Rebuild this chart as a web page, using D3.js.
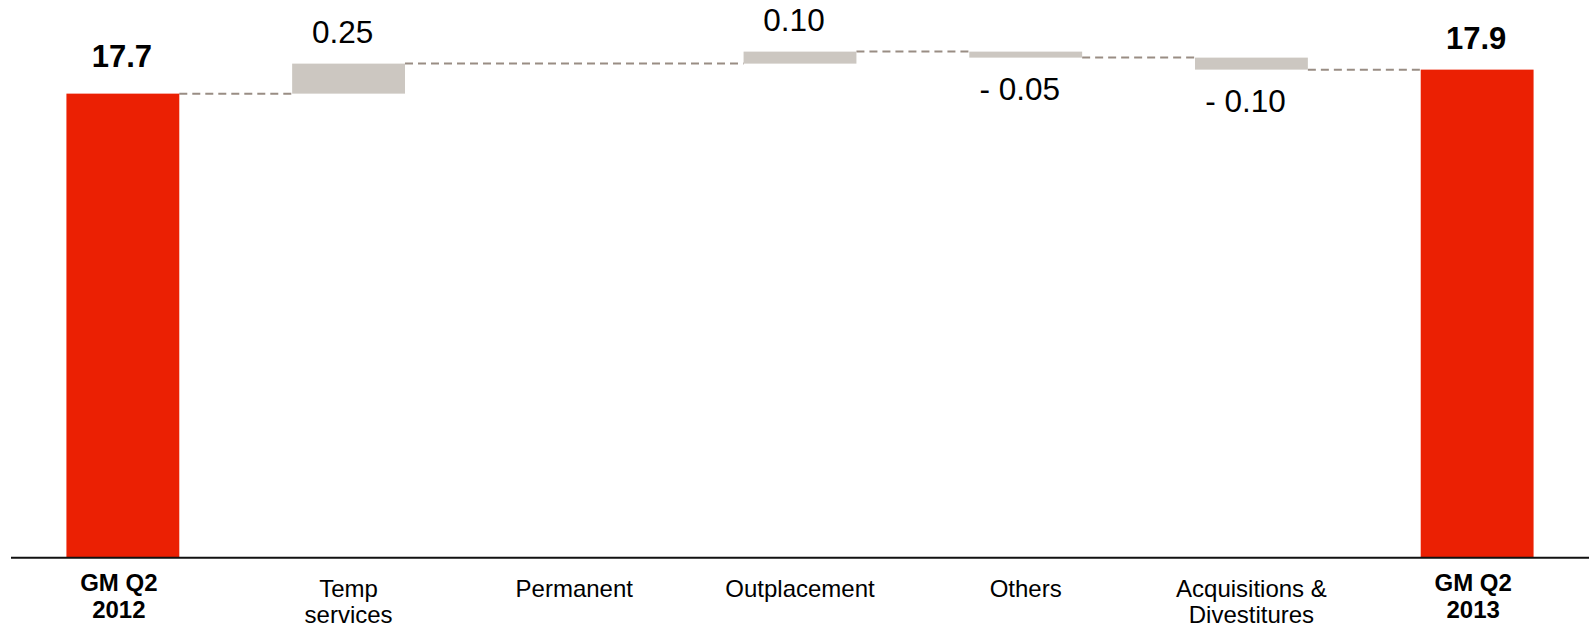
<!DOCTYPE html>
<html>
<head>
<meta charset="utf-8">
<script src="https://cdn.jsdelivr.net/npm/d3@7"></script>
<style>
  html, body { margin: 0; padding: 0; background: #fff; }
  svg { display: block; font-family: "Liberation Sans", Arial, sans-serif; }
</style>
</head>
<body>
<svg id="chart" width="1589" height="629"></svg>
<script>
// ---- data ----
const categories = ["GM Q2 2012", "Temp services", "Permanent", "Outplacement", "Others", "Acquisitions & Divestitures", "GM Q2 2013"];
const categoryLines = [["GM Q2", "2012"], ["Temp", "services"], ["Permanent"], ["Outplacement"], ["Others"], ["Acquisitions &", "Divestitures"], ["GM Q2", "2013"]];
const kinds = ["total", "delta", "delta", "delta", "delta", "delta", "total"];
const values = [17.7, 0.25, 0.00, 0.10, -0.05, -0.10, 17.9];
const valueLabels = ["17.7", "0.25", "", "0.10", "- 0.05", "- 0.10", "17.9"];

// ---- build waterfall table ----
let running = 0;
const rows = categories.map((c, i) => {
  let start, end;
  if (kinds[i] === "total") { start = null; end = values[i]; running = values[i]; }
  else { start = running; end = running + values[i]; running = end; }
  return { cat: c, lines: categoryLines[i], kind: kinds[i], value: values[i], start, end, label: valueLabels[i], i };
});

const baseY = 557;
const svg = d3.select("#chart");

const x = d3.scaleBand().domain(categories).range([10, 1590]).paddingInner(0.5).paddingOuter(0.25);
const y = d3.scaleLinear().domain([13.84, 18.48]).range([baseY, 0]);
const bw = x.bandwidth();

const RED = "#eb2003", GREY = "#ccc7c1", DASH = "#998d84";

// connectors
const drawn = rows.filter(r => !(r.kind === "delta" && r.value === 0));
for (let k = 0; k < drawn.length - 1; k++) {
  const a = drawn[k], b = drawn[k + 1];
  svg.append("line")
    .attr("x1", x(a.cat) + bw).attr("x2", x(b.cat))
    .attr("y1", y(a.end)).attr("y2", y(a.end))
    .attr("stroke", DASH).attr("stroke-width", 2)
    .attr("stroke-dasharray", "8,5");
}

// bars
svg.selectAll("rect.bar").data(drawn).enter().append("rect")
  .attr("class", "bar")
  .attr("x", d => x(d.cat))
  .attr("width", bw)
  .attr("y", d => d.kind === "total" ? y(d.end) : y(Math.max(d.start, d.end)))
  .attr("height", d => d.kind === "total" ? baseY - y(d.end) : Math.abs(y(d.start) - y(d.end)))
  .attr("fill", d => d.kind === "total" ? RED : GREY);

// axis baseline
svg.append("line")
  .attr("x1", 11).attr("x2", 1589)
  .attr("y1", baseY + 0.8).attr("y2", baseY + 0.8)
  .attr("stroke", "#111").attr("stroke-width", 2);

// value labels
rows.forEach(d => {
  if (!d.label) return;
  const cx = x(d.cat) + bw / 2;
  if (d.kind === "total") {
    svg.append("text")
      .attr("x", cx - 1).attr("y", y(d.end) - (d.i === 0 ? 27 : 21))
      .attr("text-anchor", "middle")
      .attr("font-size", 31).attr("font-weight", "bold").attr("fill", "#000")
      .text(d.label);
  } else if (d.value > 0) {
    svg.append("text")
      .attr("x", cx - 6).attr("y", y(d.end) - 21)
      .attr("text-anchor", "middle")
      .attr("font-size", 31.5).attr("fill", "#000")
      .text(d.label);
  } else {
    svg.append("text")
      .attr("x", cx - 6).attr("y", y(d.end) + 42)
      .attr("text-anchor", "middle")
      .attr("font-size", 31.5).attr("fill", "#000")
      .text(d.label);
  }
});

// category labels
rows.forEach(d => {
  const cx = x(d.cat) + bw / 2;
  const bold = d.kind === "total";
  const t = svg.append("text")
    .attr("text-anchor", "middle")
    .attr("font-size", 24)
    .attr("font-weight", bold ? "bold" : "normal")
    .attr("fill", "#000");
  d.lines.forEach((ln, j) => {
    t.append("tspan")
      .attr("x", bold ? cx - 4 : cx)
      .attr("y", (bold ? 591 : 597) + j * (bold ? 27 : 26))
      .text(ln);
  });
});
</script>
</body>
</html>
